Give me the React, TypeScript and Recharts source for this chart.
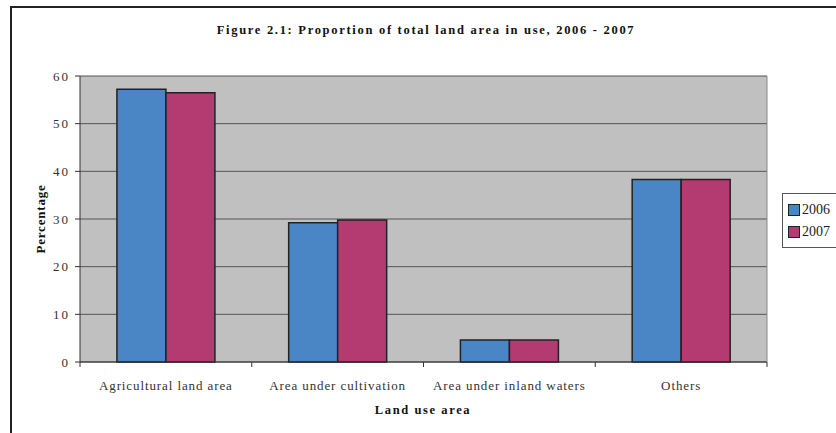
import React from 'react';
import { BarChart, Bar, XAxis, YAxis, CartesianGrid, Legend } from 'recharts';

const categories = ['Agricultural land area', 'Area under cultivation', 'Area under inland waters', 'Others'];
const values2006 = [57.2, 29.2, 4.6, 38.3];
const values2007 = [56.5, 29.8, 4.6, 38.3];
const yTicks = [0, 10, 20, 30, 40, 50, 60];
const seriesNames = ['2006', '2007'];

const data = categories.map((c, i) => ({ name: c, y2006: values2006[i], y2007: values2007[i] }));

const W = 836;
const H = 433;
const RIGHT_AXIS_W = 1;
const M = { top: 76, right: 68, bottom: 41, left: 40 };
const PLOT_W = W - M.left - 40 - M.right - RIGHT_AXIS_W;
const HALF_BAND = PLOT_W / categories.length / 2;
const FONT = '"Times New Roman", "Liberation Serif", Times, serif';
const BLUE = '#4A86C6';
const MAGENTA = '#B43A72';

const XTick = (props: any) => {
  const { x, y, payload, index } = props;
  const last = index === categories.length - 1;
  return (
    <g>
      <line x1={x - HALF_BAND} x2={x - HALF_BAND} y1={y - 8} y2={y - 3} stroke="#333" strokeWidth={1} />
      {last && <line x1={x + HALF_BAND} x2={x + HALF_BAND} y1={y - 8} y2={y - 3} stroke="#333" strokeWidth={1} />}
      <text x={x} y={y + 20} textAnchor="middle" fontFamily={FONT} fontSize={13} fill="#333" letterSpacing={0.9}>
        {payload.value}
      </text>
    </g>
  );
};

const LegendContent = () => (
  <div style={{ border: '1px solid #555', background: '#fff', padding: '5px 8px 4px 5px', fontFamily: FONT, fontSize: 14, color: '#222', width: 80 }}>
    {seriesNames.map((n, i) => (
      <div key={n} style={{ display: 'flex', alignItems: 'center', height: 22 }}>
        <span style={{ display: 'inline-block', width: 10, height: 10, background: i === 0 ? BLUE : MAGENTA, border: '1px solid #222', marginRight: 2 }} />
        <span>{n}</span>
      </div>
    ))}
  </div>
);

export default function App() {
  return (
    <div style={{ position: 'absolute', left: 0, top: 0, width: W, height: H, background: '#fff', overflow: 'hidden' }}>
      <div style={{ position: 'absolute', left: 10, top: 6, width: 900, height: 500, border: '2px solid #222' }} />
      <div style={{ position: 'absolute', left: 0, top: 23, width: 852, textAlign: 'center', fontFamily: FONT, fontWeight: 'bold', fontSize: 12.5, letterSpacing: 1.7, color: '#111' }}>
        Figure 2.1: Proportion of total land area in use, 2006 - 2007
      </div>
      <div style={{ position: 'absolute', left: 0, top: 403, width: 846, textAlign: 'center', fontFamily: FONT, fontWeight: 'bold', fontSize: 12.5, letterSpacing: 1.6, color: '#111' }}>
        Land use area
      </div>
      <div style={{ position: 'absolute', left: 0, top: 0 }}>
        <BarChart width={W} height={H} data={data} margin={M} barCategoryGap="21.5%" barGap={0}>
          <CartesianGrid vertical={false} horizontal={true} fill="#C0C0C0" stroke="#555" strokeWidth={1} fillOpacity={1} />
          <XAxis dataKey="name" tick={<XTick />} tickLine={false} axisLine={{ stroke: '#333', strokeWidth: 1 }} height={30} interval={0} />
          <YAxis
            domain={[0, 60]}
            ticks={yTicks}
            width={40}
            tickSize={5}
            tickMargin={5}
            tickLine={{ stroke: '#333' }}
            axisLine={{ stroke: '#333' }}
            tick={{ fontFamily: FONT, fontSize: 13, fill: '#333', letterSpacing: 2 }}
            label={{ value: 'Percentage', angle: -90, position: 'insideLeft', offset: 0, style: { fontFamily: FONT, fontWeight: 'bold', fontSize: 13, fill: '#111', textAnchor: 'middle', letterSpacing: 0.8 } }}
          />
          <YAxis yAxisId="r" orientation="right" domain={[0, 60]} width={RIGHT_AXIS_W} tick={false} tickLine={false} axisLine={{ stroke: '#888' }} />
          <Legend
            layout="horizontal"
            verticalAlign="middle"
            align="center"
            content={<LegendContent />}
            wrapperStyle={{ position: 'absolute', left: 782, top: 193, width: 'auto' }}
          />
          <Bar dataKey="y2006" name={seriesNames[0]} fill={BLUE} stroke="#222" strokeWidth={1.5} isAnimationActive={false} />
          <Bar dataKey="y2007" name={seriesNames[1]} fill={MAGENTA} stroke="#222" strokeWidth={1.5} isAnimationActive={false} />
        </BarChart>
      </div>
    </div>
  );
}
